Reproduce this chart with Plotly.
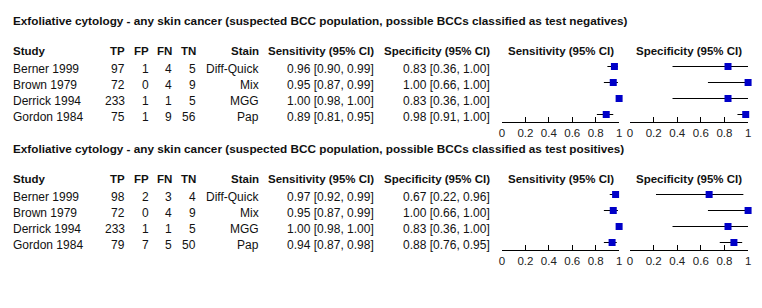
import plotly.graph_objects as go

# ---------------- data ----------------
studies = ["Berner 1999", "Brown 1979", "Derrick 1994", "Gordon 1984"]
stains = ["Diff-Quick", "Mix", "MGG", "Pap"]

titles = [
    "Exfoliative cytology - any skin cancer (suspected BCC population, possible BCCs classified as test negatives)",
    "Exfoliative cytology - any skin cancer (suspected BCC population, possible BCCs classified as test positives)",
]

# panel 1: possible BCCs as test negatives
tp_neg = [97, 72, 233, 75]
fp_neg = [1, 0, 1, 1]
fn_neg = [4, 4, 1, 9]
tn_neg = [5, 9, 5, 56]
sens_neg = [0.96, 0.95, 1.00, 0.89]
sens_lo_neg = [0.90, 0.87, 0.98, 0.81]
sens_hi_neg = [0.99, 0.99, 1.00, 0.95]
spec_neg = [0.83, 1.00, 0.83, 0.98]
spec_lo_neg = [0.36, 0.66, 0.36, 0.91]
spec_hi_neg = [1.00, 1.00, 1.00, 1.00]

# panel 2: possible BCCs as test positives
tp_pos = [98, 72, 233, 79]
fp_pos = [2, 0, 1, 7]
fn_pos = [3, 4, 1, 5]
tn_pos = [4, 9, 5, 50]
sens_pos = [0.97, 0.95, 1.00, 0.94]
sens_lo_pos = [0.92, 0.87, 0.98, 0.87]
sens_hi_pos = [0.99, 0.99, 1.00, 0.98]
spec_pos = [0.67, 1.00, 0.83, 0.88]
spec_lo_pos = [0.22, 0.66, 0.36, 0.76]
spec_hi_pos = [0.96, 1.00, 1.00, 0.95]

tick_vals = [0, 0.2, 0.4, 0.6, 0.8, 1]
tick_text = ["0", "0.2", "0.4", "0.6", "0.8", "1"]

panels = [
    dict(tp=tp_neg, fp=fp_neg, fn=fn_neg, tn=tn_neg,
         sens=sens_neg, slo=sens_lo_neg, shi=sens_hi_neg,
         spec=spec_neg, plo=spec_lo_neg, phi=spec_hi_neg),
    dict(tp=tp_pos, fp=fp_pos, fn=fn_pos, tn=tn_pos,
         sens=sens_pos, slo=sens_lo_pos, shi=sens_hi_pos,
         spec=spec_pos, plo=spec_lo_pos, phi=spec_hi_pos),
]

# ---------------- layout helpers (pixels) ----------------
W, H = 762, 308
FONT = "Liberation Sans, Arial, sans-serif"
TXT = "#111111"
BLUE = "#0000C8"
HEAD_SIZE = 11.5
TITLE_SIZE = 11.75

def px(x):
    return x / W

def py(y):
    return 1 - y / H

row_px = 16.0
panel_offset = 128
axis_y0 = 122          # axis line (pixel) for panel 1
sens_x = (503, 621)
spec_x = (632, 751)

# column right edges (pixels) and the study column's left edge
LEFT = 10
COLS = dict(tp=122.5, fp=147, fn=170, tn=195, stain=258, sens=374, spec=491)
PAD = 2  # annotation inner padding

fig = go.Figure()
annotations = []
layout_axes = {}

def ann(text, xpix, y, xanchor="right", size=12, bold=False, yref="paper", yshift=0):
    if xanchor == "right":
        xp = xpix + PAD
    elif xanchor == "left":
        xp = xpix - PAD
    else:
        xp = xpix
    annotations.append(dict(
        text=f"<b>{text}</b>" if bold else text,
        x=px(xp), y=y, xref="paper", yref=yref, xanchor=xanchor, yanchor="middle",
        showarrow=False, yshift=yshift,
        font=dict(family=FONT, size=size, color=TXT),
    ))

for p, d in enumerate(panels):
    off = p * panel_offset
    ax_y = axis_y0 + off
    dom = [py(ax_y), py(ax_y - 4 * row_px)]
    last_gap = 7.5 / row_px
    yr = [3 + last_gap, 3 + last_gap - 4]

    for k, (vals, lo, hi, xr) in enumerate([
        (d["sens"], d["slo"], d["shi"], sens_x),
        (d["spec"], d["plo"], d["phi"], spec_x),
    ]):
        idx = 2 * p + k + 1
        xa = "x" if idx == 1 else f"x{idx}"
        ya = "y" if idx == 1 else f"y{idx}"
        fig.add_trace(go.Scatter(
            x=vals, y=list(range(len(vals))), mode="markers",
            marker=dict(symbol="square", size=7, color=BLUE, line=dict(width=0)),
            error_x=dict(type="data", symmetric=False,
                         array=[h - v for h, v in zip(hi, vals)],
                         arrayminus=[v - l for v, l in zip(vals, lo)],
                         width=0, thickness=1, color="black"),
            xaxis=xa, yaxis=ya, cliponaxis=False, showlegend=False,
            hoverinfo="skip",
        ))
        xname = "xaxis" if idx == 1 else f"xaxis{idx}"
        yname = "yaxis" if idx == 1 else f"yaxis{idx}"
        layout_axes[xname] = dict(
            domain=[px(xr[0]), px(xr[1])], range=[0, 1], anchor=ya,
            showline=True, linecolor="black", linewidth=1,
            ticks="inside", ticklen=5, tickcolor="black", tickwidth=1,
            tickvals=tick_vals, ticktext=tick_text, showgrid=False, zeroline=False,
            tickfont=dict(family=FONT, size=11.5, color="#222222"), fixedrange=True,
        )
        layout_axes[yname] = dict(
            domain=dom, range=yr, anchor=xa, visible=False, showgrid=False,
            zeroline=False, fixedrange=True,
        )

    yref = "y" if p == 0 else "y3"
    # title
    ann(titles[p], LEFT, py(20 + off), xanchor="left", size=TITLE_SIZE, bold=True)
    # headers
    hy = py(51 + off)
    ann("Study", LEFT, hy, xanchor="left", size=HEAD_SIZE, bold=True)
    ann("TP", COLS["tp"], hy, size=HEAD_SIZE, bold=True)
    ann("FP", COLS["fp"], hy, size=HEAD_SIZE, bold=True)
    ann("FN", COLS["fn"], hy, size=HEAD_SIZE, bold=True)
    ann("TN", COLS["tn"], hy, size=HEAD_SIZE, bold=True)
    ann("Stain", COLS["stain"], hy, size=HEAD_SIZE, bold=True)
    ann("Sensitivity (95% CI)", COLS["sens"], hy, size=HEAD_SIZE, bold=True)
    ann("Specificity (95% CI)", COLS["spec"], hy, size=HEAD_SIZE, bold=True)
    ann("Sensitivity (95% CI)", (sens_x[0] + sens_x[1]) / 2, hy, xanchor="center", size=HEAD_SIZE, bold=True)
    ann("Specificity (95% CI)", (spec_x[0] + spec_x[1]) / 2, hy, xanchor="center", size=HEAD_SIZE, bold=True)

    for i in range(len(studies)):
        ys = -2
        ann(studies[i], LEFT, i, xanchor="left", yref=yref, yshift=ys)
        ann(str(d["tp"][i]), COLS["tp"], i, yref=yref, yshift=ys)
        ann(str(d["fp"][i]), COLS["fp"], i, yref=yref, yshift=ys)
        ann(str(d["fn"][i]), COLS["fn"], i, yref=yref, yshift=ys)
        ann(str(d["tn"][i]), COLS["tn"], i, yref=yref, yshift=ys)
        ann(stains[i], COLS["stain"], i, yref=yref, yshift=ys)
        ann(f"{d['sens'][i]:.2f} [{d['slo'][i]:.2f}, {d['shi'][i]:.2f}]", COLS["sens"], i, yref=yref, yshift=ys)
        ann(f"{d['spec'][i]:.2f} [{d['plo'][i]:.2f}, {d['phi'][i]:.2f}]", COLS["spec"], i, yref=yref, yshift=ys)

fig.update_layout(
    width=W, height=H, margin=dict(l=0, r=0, t=0, b=0),
    paper_bgcolor="white", plot_bgcolor="white",
    font=dict(family=FONT, size=12, color=TXT),
    annotations=annotations, showlegend=False,
    **layout_axes,
)

fig.write_html(
    "out.html",
    config={"displayModeBar": False},
    post_script="document.body.style.margin='0';document.body.style.padding='0';",
)
